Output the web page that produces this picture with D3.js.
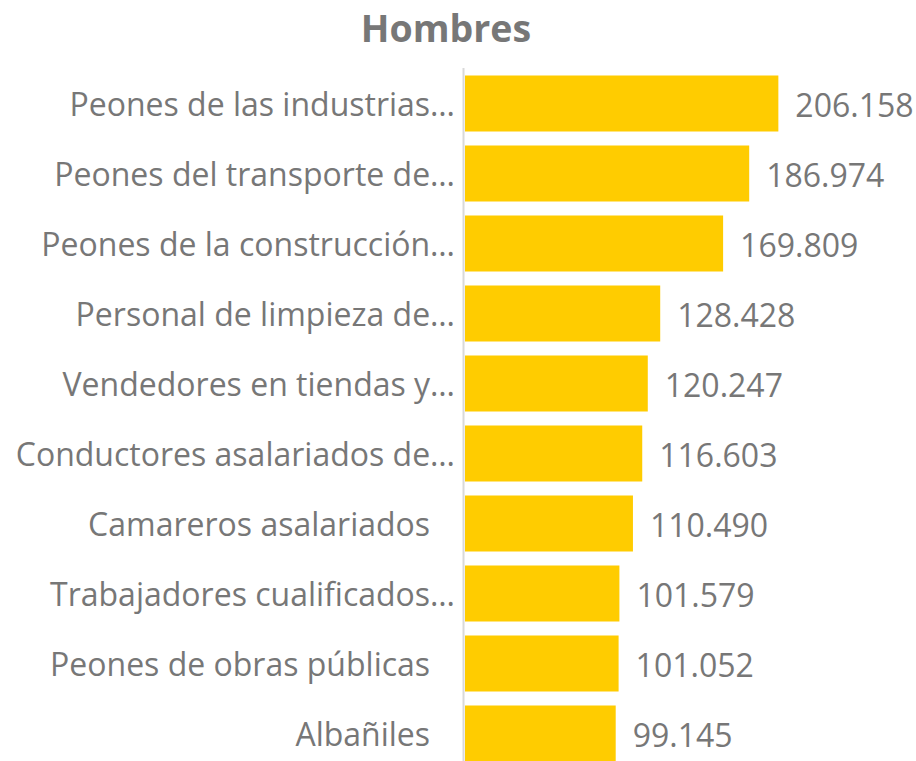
<!DOCTYPE html>
<html><head><meta charset="utf-8">
<script src="https://cdn.jsdelivr.net/npm/d3@7"></script>
<style>html,body{margin:0;padding:0;background:#fff;}svg{display:block;}</style>
</head><body>
<script>
const title = "Hombres";
const categories = [
  "Peones de las industrias…",
  "Peones del transporte de…",
  "Peones de la construcción…",
  "Personal de limpieza de…",
  "Vendedores en tiendas y…",
  "Conductores asalariados de…",
  "Camareros asalariados\u00A0\u00A0\u00A0",
  "Trabajadores cualificados…",
  "Peones de obras públicas\u00A0\u00A0\u00A0",
  "Albañiles\u00A0\u00A0\u00A0"
];
const values = [206158, 186974, 169809, 128428, 120247, 116603, 110490, 101579, 101052, 99145];

const W = 916, H = 761;
const font = "'Open Sans', sans-serif";
const grey = "#777777";
const svg = d3.select("body").append("svg").attr("width", W).attr("height", H);

const locale = d3.formatLocale({decimal: ",", thousands: ".", grouping: [3], currency: ["", "€"]});
const fmt = locale.format(",d");

const x = d3.scaleLinear().domain([0, 300000]).range([465, 921]);
const y = d3.scaleBand().domain(categories).range([68.5, 768.5]).paddingInner(0.2).paddingOuter(0.1);

svg.append("text").attr("x", 446).attr("y", 42).attr("text-anchor", "middle")
  .attr("font-family", font).attr("font-weight", 700).attr("font-size", 37.5).attr("fill", "#777")
  .text(title);

svg.append("g").selectAll("rect").data(values).join("rect")
  .attr("x", x(0)).attr("y", (d, i) => y(categories[i]))
  .attr("width", d => x(d) - x(0)).attr("height", y.bandwidth())
  .attr("fill", "#FFCC00");

svg.append("line").attr("x1", 463.5).attr("x2", 463.5).attr("y1", 68).attr("y2", H)
  .attr("stroke", "#d9d9d9").attr("stroke-width", 2);

svg.append("g").selectAll("text").data(categories).join("text")
  .attr("x", 455).attr("y", d => y(d) + y.bandwidth() / 2).attr("dy", "0.38em")
  .attr("text-anchor", "end").style("white-space", "pre")
  .attr("font-family", font).attr("font-size", 32).attr("fill", grey)
  .text(d => d);

svg.append("g").selectAll("text").data(values).join("text")
  .attr("x", d => x(d) + 17).attr("y", (d, i) => y(categories[i]) + y.bandwidth() / 2).attr("dy", "0.42em")
  .attr("font-family", font).attr("font-size", 32).attr("fill", grey)
  .text(d => fmt(d));
</script>
</body></html>
